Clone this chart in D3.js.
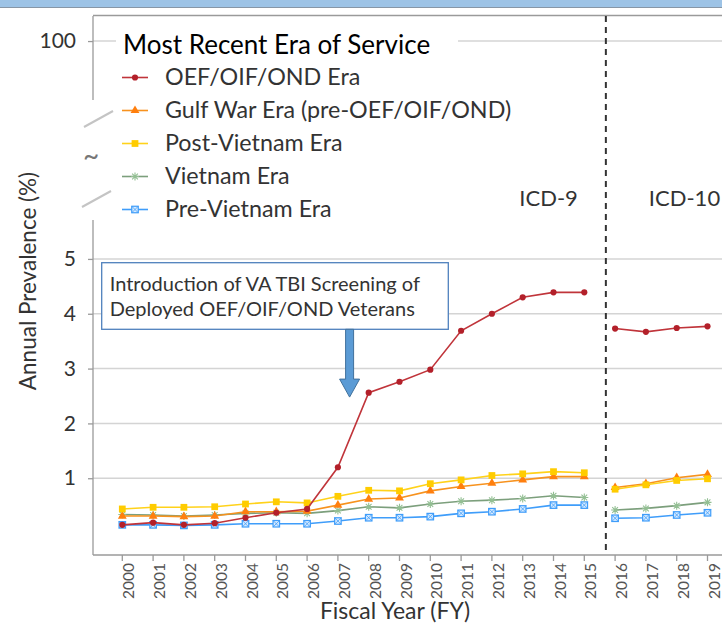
<!DOCTYPE html>
<html>
<head>
<meta charset="utf-8">
<script src="https://cdn.jsdelivr.net/npm/d3@7"></script>
<style>
  body { margin: 0; background: #fff; }
  svg { display: block; font-family: Lato, "Open Sans", sans-serif; }
</style>
</head>
<body>
<svg id="chart" width="722" height="625"></svg>
<script>
// fiscal years and the annual prevalence (%) per era of service
var years = [2000, 2001, 2002, 2003, 2004, 2005, 2006, 2007, 2008, 2009,
             2010, 2011, 2012, 2013, 2014, 2015, 2016, 2017, 2018, 2019];
var oef      = [0.15, 0.19, 0.15, 0.18, 0.28, 0.37, 0.44, 1.20, 2.56, 2.76, 2.98, 3.69, 4.00, 4.30, 4.39, 4.39, 3.73, 3.67, 3.74, 3.77];
var gulfWar  = [0.31, 0.31, 0.30, 0.31, 0.39, 0.39, 0.40, 0.51, 0.62, 0.64, 0.77, 0.85, 0.91, 0.97, 1.03, 1.03, 0.83, 0.90, 1.01, 1.07];
var postViet = [0.44, 0.47, 0.47, 0.48, 0.53, 0.57, 0.55, 0.67, 0.78, 0.77, 0.90, 0.97, 1.05, 1.08, 1.12, 1.10, 0.80, 0.88, 0.96, 0.99];
var vietnam  = [0.34, 0.33, 0.31, 0.33, 0.36, 0.37, 0.36, 0.41, 0.48, 0.46, 0.53, 0.58, 0.60, 0.63, 0.68, 0.65, 0.42, 0.45, 0.50, 0.56];
var preViet  = [0.15, 0.15, 0.14, 0.15, 0.17, 0.17, 0.17, 0.22, 0.28, 0.28, 0.30, 0.36, 0.39, 0.44, 0.51, 0.51, 0.27, 0.28, 0.33, 0.37];

var seriesNames = ["OEF/OIF/OND Era", "Gulf War Era (pre-OEF/OIF/OND)", "Post-Vietnam Era", "Vietnam Era", "Pre-Vietnam Era"];
var lowTicks = [1, 2, 3, 4, 5];
var highTicks = [100];
var icdChange = 2015.7; // switch from ICD-9 to ICD-10 coding

var width = 722, height = 625;
var axisX = 93, axisBottom = 555;

var x = d3.scaleLinear().domain([2000, 2019]).range([122.3, 707.5]);
var yLow = d3.scaleLinear().domain([-0.4, 5.71]).range([axisBottom, 220]);
var yHigh = d3.scaleLinear().domain([96, 101.7]).range([100, 16]);

var styles = [
  {line: "#c0343a", fill: "#b3202a", stroke: "none", shape: "circle", size: 30},
  {line: "#f7921e", fill: "#ff7f0e", stroke: "none", shape: "triangle", size: 34},
  {line: "#ffd21a", fill: "#ffcc00", stroke: "none", shape: "square", size: 46},
  {line: "#7c9f7c", fill: "none", stroke: "#93bf93", shape: "star", size: 8},
  {line: "#3f9dfa", fill: "#d6eaff", stroke: "#3f9dfa", shape: "boxx", size: 6.5}
];

var allValues = [oef, gulfWar, postViet, vietnam, preViet];
var series = seriesNames.map(function(name, i) {
  return {
    name: name,
    style: styles[i],
    points: years.map(function(yr, j) { return {year: yr, value: allValues[i][j]}; })
  };
});

var svg = d3.select("#chart");

// window strip at the top
svg.append("rect").attr("x", 0).attr("y", 0).attr("width", width).attr("height", 7)
  .attr("fill", "#9dc3e6");
svg.append("line").attr("x1", 0).attr("x2", width).attr("y1", 7.5).attr("y2", 7.5)
  .attr("stroke", "#8796a6").attr("stroke-width", 1);

// grid lines
svg.selectAll(".grid-low").data(lowTicks).enter().append("line")
  .attr("x1", axisX).attr("x2", width)
  .attr("y1", function(d) { return yLow(d); })
  .attr("y2", function(d) { return yLow(d); })
  .attr("stroke", "#d4d4d4").attr("stroke-width", 1.5);
svg.selectAll(".grid-high").data(highTicks).enter().append("line")
  .attr("x1", axisX).attr("x2", width)
  .attr("y1", function(d) { return yHigh(d); })
  .attr("y2", function(d) { return yHigh(d); })
  .attr("stroke", "#d4d4d4").attr("stroke-width", 1.5);

// y axes (broken)
var axisColor = "#9a9a9a";
var lowAxis = svg.append("g").attr("transform", "translate(" + axisX + ",0)")
  .call(d3.axisLeft(yLow).tickValues(lowTicks).tickFormat(d3.format("d")).tickSize(5).tickPadding(12));
var highAxis = svg.append("g").attr("transform", "translate(" + axisX + ",0)")
  .call(d3.axisLeft(yHigh).tickValues(highTicks).tickFormat(d3.format("d")).tickSize(5).tickPadding(12));
[lowAxis, highAxis].forEach(function(g) {
  g.select(".domain").remove();
  g.selectAll(".tick line").attr("stroke", axisColor).attr("stroke-width", 1.3);
  g.selectAll(".tick text").attr("font-size", 21).attr("fill", "#333")
    .attr("font-family", "Lato, sans-serif");
});
svg.append("line").attr("x1", axisX).attr("x2", axisX)
  .attr("y1", yLow.range()[1]).attr("y2", axisBottom)
  .attr("stroke", axisColor).attr("stroke-width", 1.3);
svg.append("line").attr("x1", axisX).attr("x2", axisX)
  .attr("y1", yHigh.range()[1]).attr("y2", yHigh.range()[0])
  .attr("stroke", axisColor).attr("stroke-width", 1.3);
// top border of the panel
svg.append("line").attr("x1", axisX).attr("x2", width)
  .attr("y1", yHigh.range()[1] - 0.5).attr("y2", yHigh.range()[1] - 0.5)
  .attr("stroke", axisColor).attr("stroke-width", 1.3);

// break marks
var breakMarks = [[-9, 127, 20, 111], [-11, 207, 18, 191]];
svg.selectAll(".break").data(breakMarks).enter().append("line")
  .attr("x1", function(d) { return axisX + d[0]; })
  .attr("y1", function(d) { return d[1]; })
  .attr("x2", function(d) { return axisX + d[2]; })
  .attr("y2", function(d) { return d[3]; })
  .attr("stroke", "#c4c4c4").attr("stroke-width", 2);
svg.append("text").attr("x", axisX - 2).attr("y", 166).attr("text-anchor", "middle")
  .attr("font-size", 28).attr("fill", "#777").text("~");

// x axis
svg.append("line").attr("x1", axisX).attr("x2", width)
  .attr("y1", axisBottom).attr("y2", axisBottom)
  .attr("stroke", axisColor).attr("stroke-width", 1.3);
svg.selectAll(".xtick").data(years).enter().append("line")
  .attr("x1", function(d) { return x(d); })
  .attr("x2", function(d) { return x(d); })
  .attr("y1", axisBottom).attr("y2", axisBottom + 6)
  .attr("stroke", axisColor).attr("stroke-width", 1.3);
svg.selectAll(".xlabel").data(years).enter().append("text")
  .attr("transform", function(d) { return "translate(" + (x(d) + 12) + "," + (axisBottom + 8) + ") rotate(-90)"; })
  .attr("text-anchor", "end")
  .attr("font-size", 15.5).attr("fill", "#555")
  .text(function(d) { return d; });

// axis titles
svg.append("text").attr("x", 395).attr("y", 619).attr("text-anchor", "middle")
  .attr("font-size", 23).attr("fill", "#333").text("Fiscal Year (FY)");
svg.append("text").attr("transform", "translate(36,281) rotate(-90)")
  .attr("text-anchor", "middle").attr("font-size", 22.5).attr("fill", "#333")
  .text("Annual Prevalence (%)");

// ICD-9 / ICD-10 split
svg.append("line")
  .attr("x1", x(icdChange)).attr("x2", x(icdChange))
  .attr("y1", yHigh.range()[1]).attr("y2", axisBottom)
  .attr("stroke", "#333").attr("stroke-width", 2).attr("stroke-dasharray", "6,5");
svg.append("text").attr("x", x(icdChange) - 28).attr("y", 206).attr("text-anchor", "end")
  .attr("font-size", 22).attr("fill", "#333").text("ICD-9");
svg.append("text").attr("x", x(icdChange) + 43).attr("y", 206)
  .attr("font-size", 22).attr("fill", "#333").text("ICD-10");

// markers
function drawMarker(g, s) {
  if (s.shape === "circle") {
    g.append("path").attr("d", d3.symbol(d3.symbolCircle, s.size)()).attr("fill", s.fill);
  } else if (s.shape === "triangle") {
    g.append("path").attr("d", d3.symbol(d3.symbolTriangle, s.size)()).attr("fill", s.fill);
  } else if (s.shape === "square") {
    g.append("path").attr("d", d3.symbol(d3.symbolSquare, s.size)()).attr("fill", s.fill);
  } else if (s.shape === "star") {
    var r = s.size / 2, k = r * 0.72;
    g.append("path")
      .attr("d", "M" + (-r) + ",0L" + r + ",0M0," + (-r) + "L0," + r +
                 "M" + (-k) + "," + (-k) + "L" + k + "," + k + "M" + (-k) + "," + k + "L" + k + "," + (-k))
      .attr("stroke", s.stroke).attr("stroke-width", 1.1).attr("fill", "none");
  } else if (s.shape === "boxx") {
    var h = s.size / 2;
    g.append("rect").attr("x", -h).attr("y", -h).attr("width", s.size).attr("height", s.size)
      .attr("fill", s.fill).attr("stroke", s.stroke).attr("stroke-width", 1.2);
    g.append("path")
      .attr("d", "M" + (-h) + "," + (-h) + "L" + h + "," + h + "M" + (-h) + "," + h + "L" + h + "," + (-h))
      .attr("stroke", s.stroke).attr("stroke-width", 0.8);
  }
}

// series lines: ICD-9 and ICD-10 periods are not joined
var line = d3.line()
  .x(function(d) { return x(d.year); })
  .y(function(d) { return yLow(d.value); });

var drawOrder = [4, 3, 1, 2, 0];
drawOrder.forEach(function(i) {
  var s = series[i];
  var g = svg.append("g");
  var before = s.points.filter(function(p) { return p.year < icdChange; });
  var after = s.points.filter(function(p) { return p.year > icdChange; });
  [before, after].forEach(function(seg) {
    g.append("path").datum(seg).attr("d", line)
      .attr("fill", "none").attr("stroke", s.style.line).attr("stroke-width", 1.6);
  });
  g.selectAll(".pt").data(s.points).enter().append("g")
    .attr("transform", function(d) { return "translate(" + x(d.year) + "," + yLow(d.value) + ")"; })
    .each(function() { drawMarker(d3.select(this), s.style); });
});

// annotation
var boxX = 101.7, boxY = 262.7, boxW = 346.6, boxH = 66.6;
svg.append("rect").attr("x", boxX).attr("y", boxY).attr("width", boxW).attr("height", boxH)
  .attr("fill", "#fff").attr("stroke", "#4f81bd").attr("stroke-width", 1.3);
svg.append("text").attr("x", boxX + 8).attr("y", boxY + 28).attr("font-size", 20).attr("fill", "#333")
  .text("Introduction of VA TBI Screening of");
svg.append("text").attr("x", boxX + 8).attr("y", boxY + 53).attr("font-size", 20).attr("fill", "#333")
  .text("Deployed OEF/OIF/OND Veterans");
var arrowX = x(2007.38), arrowTip = yLow(2.48), arrowTop = boxY + boxH;
svg.append("path")
  .attr("d", "M" + (arrowX - 4) + "," + arrowTop + "L" + (arrowX + 4) + "," + arrowTop +
             "L" + (arrowX + 4) + "," + (arrowTip - 18) + "L" + (arrowX + 10) + "," + (arrowTip - 18) +
             "L" + arrowX + "," + arrowTip + "L" + (arrowX - 10) + "," + (arrowTip - 18) +
             "L" + (arrowX - 4) + "," + (arrowTip - 18) + "Z")
  .attr("fill", "#5b9bd5").attr("stroke", "#41719c").attr("stroke-width", 1);

// legend
var legend = svg.append("g");
legend.append("rect").attr("x", 116).attr("y", 24).attr("width", 342).attr("height", 202).attr("fill", "#fff");
legend.append("text").attr("x", 123).attr("y", 54).attr("font-size", 26).attr("fill", "#000")
  .text("Most Recent Era of Service");
var item = legend.selectAll(".item").data(series).enter().append("g")
  .attr("transform", function(d, i) { return "translate(0," + (77.5 + i * 33) + ")"; });
item.append("line").attr("x1", 122).attr("x2", 148).attr("y1", 0).attr("y2", 0)
  .attr("stroke", function(d) { return d.style.line; }).attr("stroke-width", 1.6);
item.append("g").attr("transform", "translate(135,0)")
  .each(function(d) { drawMarker(d3.select(this), d.style); });
item.append("text").attr("x", 165).attr("y", 7.5).attr("font-size", 23.3).attr("fill", "#333")
  .text(function(d) { return d.name; });
</script>
</body>
</html>
